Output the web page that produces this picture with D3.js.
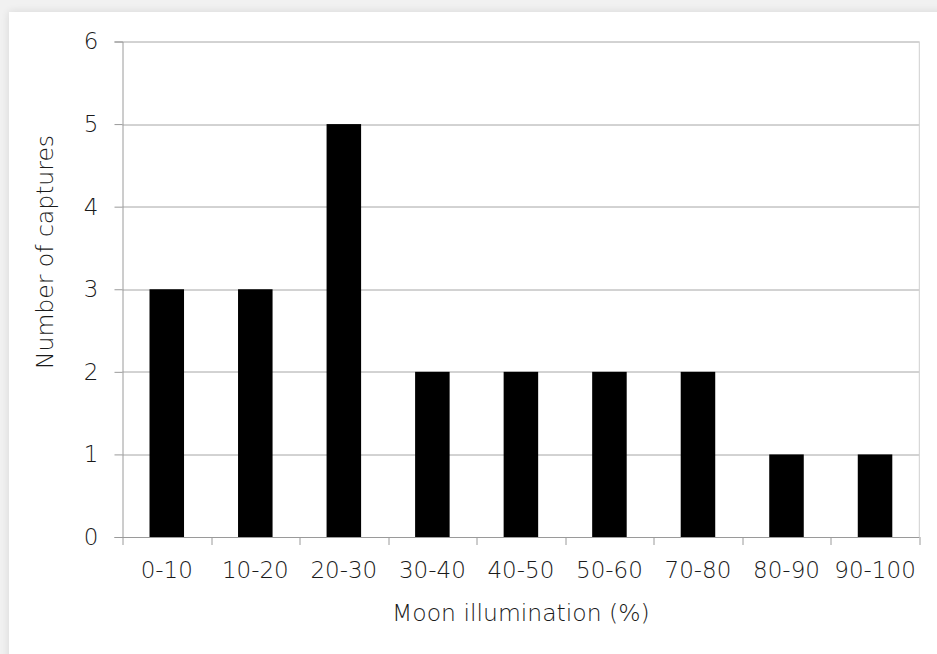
<!DOCTYPE html>
<html lang="en">
<head>
<meta charset="UTF-8">
<title>Moon illumination — captures</title>
<script src="https://d3js.org/d3.v7.min.js"></script>
<style>
html,body{margin:0;padding:0;background:#f1f1f1}
svg{display:block}
.axis text{fill:#1a1a1a;font-family:"DejaVu Sans",sans-serif;font-weight:200;font-size:23px}
.axis path,.axis line{stroke:#9a9a9a}
.grid line{stroke:#a6a6a6}
.title{fill:#1a1a1a;font-family:"DejaVu Sans",sans-serif;font-weight:200;font-size:23.5px}
</style>
</head>
<body>
<div id="chart"></div>
<script>
var categories = ['0-10', '10-20', '20-30', '30-40', '40-50', '50-60', '70-80', '80-90', '90-100'];
var captures = [3, 3, 5, 2, 2, 2, 2, 1, 1];
var yTicks = [0, 1, 2, 3, 4, 5, 6];

var W = 937, H = 654;
var margin = { top: 41.5, right: 17.7, bottom: 117, left: 122.5 };
var w = W - margin.left - margin.right;
var h = H - margin.top - margin.bottom;

var svg = d3.select('#chart').append('svg').attr('width', W).attr('height', H);

// panel with a soft shadow
var defs = svg.append('defs');
var f = defs.append('filter').attr('id', 'shadow').attr('x', '-5%').attr('y', '-5%').attr('width', '110%').attr('height', '110%');
f.append('feGaussianBlur').attr('in', 'SourceAlpha').attr('stdDeviation', 4);
f.append('feComponentTransfer').append('feFuncA').attr('type', 'linear').attr('slope', 0.12);
var m = f.append('feMerge');
m.append('feMergeNode');
m.append('feMergeNode').attr('in', 'SourceGraphic');

svg.append('rect').attr('width', W).attr('height', H).attr('fill', '#f1f1f1');
svg.append('rect').attr('x', 9).attr('y', 12).attr('width', W + 20).attr('height', H + 20)
  .attr('fill', '#fff').attr('filter', 'url(#shadow)');

var g = svg.append('g').attr('transform', 'translate(' + margin.left + ',' + margin.top + ')');

var x = d3.scaleBand().domain(categories).range([0, w]).padding(0);
var y = d3.scaleLinear().domain([0, 6]).range([h, 0]);
var barW = x.bandwidth() * 0.39;

// gridlines
g.append('g').attr('class', 'grid').selectAll('line').data(yTicks.slice(1)).join('line')
  .attr('x1', 0).attr('x2', w)
  .attr('y1', function(d) { return Math.round(y(d)) + 0.5; })
  .attr('y2', function(d) { return Math.round(y(d)) + 0.5; });

// right border of plot area
g.append('line').attr('x1', w).attr('x2', w).attr('y1', 0).attr('y2', h).attr('stroke', '#cfcfcf');

// bars
g.selectAll('rect.bar').data(captures).join('rect')
  .attr('class', 'bar')
  .attr('x', function(d, i) { return x(categories[i]) + (x.bandwidth() - barW) / 2; })
  .attr('y', function(d) { return y(d); })
  .attr('width', barW)
  .attr('height', function(d) { return h - y(d); })
  .attr('fill', '#000');

// y axis
var yAxis = d3.axisLeft(y).tickValues(yTicks).tickFormat(d3.format('d')).tickSize(8).tickPadding(16);
g.append('g').attr('class', 'axis').call(yAxis);

// x axis: ticks at category boundaries, labels at centres
var edges = categories.map(function(c) { return x(c); }).concat([w]);
var xa = g.append('g').attr('class', 'axis').attr('transform', 'translate(0,' + h + ')');
xa.append('line').attr('x1', 0).attr('x2', w).attr('y1', 0.5).attr('y2', 0.5);
xa.selectAll('line.tk').data(edges).join('line').attr('class', 'tk')
  .attr('x1', function(d) { return Math.round(d) + 0.5; })
  .attr('x2', function(d) { return Math.round(d) + 0.5; })
  .attr('y1', 0).attr('y2', 8);
xa.selectAll('text').data(categories).join('text')
  .attr('x', function(d) { return x(d) + x.bandwidth() / 2; })
  .attr('y', 41).attr('text-anchor', 'middle').text(function(d) { return d; });

// axis titles
svg.append('text').attr('class', 'title').attr('text-anchor', 'middle')
  .attr('x', margin.left + w / 2).attr('y', 621).text('Moon illumination (%)');
svg.append('text').attr('class', 'title').attr('text-anchor', 'middle')
  .attr('transform', 'translate(53,252) rotate(-90)').text('Number of captures');
</script>
</body>
</html>
